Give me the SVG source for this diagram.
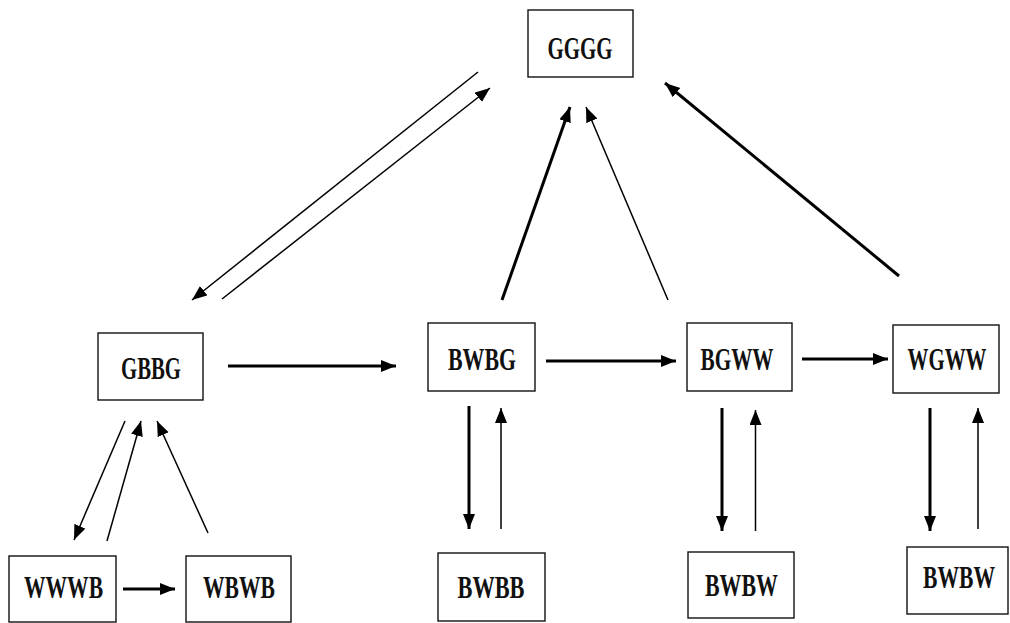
<svg xmlns="http://www.w3.org/2000/svg" width="1010" height="623" viewBox="0 0 1010 623">
<style>
.box{fill:#fff;stroke:#111;stroke-width:1.4}
.lbl{font-family:"Liberation Serif","Times New Roman",serif;font-weight:bold;font-size:20px;fill:#111;text-anchor:middle}
.thick{stroke:#000;stroke-width:3;fill:none;marker-end:url(#ah)}
.thin{stroke:#000;stroke-width:1.5;fill:none;marker-end:url(#ah)}
</style>
<defs>
<marker id="ah" markerUnits="userSpaceOnUse" markerWidth="16" markerHeight="13" refX="15" refY="6" orient="auto">
<path d="M0,0 L15,6 L0,12 z" fill="#000"/>
</marker>
</defs>
<rect width="1010" height="623" fill="#fff"/>
<g id="connectors">
<line class="thin" x1="478" y1="72" x2="192" y2="300"/>
<line class="thin" x1="222" y1="299" x2="490" y2="88"/>
<line class="thick" x1="502" y1="300" x2="570" y2="107"/>
<line class="thin" x1="668" y1="300" x2="586" y2="107"/>
<line class="thick" x1="899" y1="276" x2="665" y2="83"/>
<line class="thick" x1="228" y1="366" x2="396" y2="366"/>
<line class="thick" x1="546" y1="361" x2="676" y2="361"/>
<line class="thick" x1="802" y1="359" x2="888" y2="359"/>
<line class="thin" x1="125" y1="421" x2="74" y2="540"/>
<line class="thin" x1="107" y1="541" x2="141" y2="421"/>
<line class="thin" x1="208" y1="533" x2="157" y2="421"/>
<line class="thick" x1="123" y1="589" x2="175" y2="589"/>
<line class="thick" x1="469" y1="406" x2="469" y2="529"/>
<line class="thin" x1="501" y1="529" x2="501" y2="408"/>
<line class="thick" x1="722" y1="408" x2="722" y2="531"/>
<line class="thin" x1="755.5" y1="531" x2="755.5" y2="410"/>
<line class="thick" x1="930" y1="408" x2="930" y2="531"/>
<line class="thin" x1="978" y1="529" x2="978" y2="408"/>
</g>
<g id="GGGG">
<rect class="box" x="528" y="10" width="105" height="67"/>
<text class="lbl" transform="translate(580,59) scale(1,1.55)" textLength="65" lengthAdjust="spacingAndGlyphs">GGGG</text>
</g>
<g id="GBBG">
<rect class="box" x="98" y="333" width="105" height="67"/>
<text class="lbl" transform="translate(151,379) scale(1,1.55)" textLength="60" lengthAdjust="spacingAndGlyphs">GBBG</text>
</g>
<g id="BWBG">
<rect class="box" x="428" y="323" width="107" height="68"/>
<text class="lbl" transform="translate(482,370) scale(1,1.55)" textLength="68" lengthAdjust="spacingAndGlyphs">BWBG</text>
</g>
<g id="BGWW">
<rect class="box" x="687" y="323" width="105" height="68"/>
<text class="lbl" transform="translate(737,370) scale(1,1.55)" textLength="73" lengthAdjust="spacingAndGlyphs">BGWW</text>
</g>
<g id="WGWW">
<rect class="box" x="893" y="325" width="106" height="68"/>
<text class="lbl" transform="translate(947,370) scale(1,1.55)" textLength="79" lengthAdjust="spacingAndGlyphs">WGWW</text>
</g>
<g id="WWWB">
<rect class="box" x="9" y="556" width="107" height="66"/>
<text class="lbl" transform="translate(63.5,598) scale(1,1.55)" textLength="79" lengthAdjust="spacingAndGlyphs">WWWB</text>
</g>
<g id="WBWB">
<rect class="box" x="186" y="556" width="105" height="66"/>
<text class="lbl" transform="translate(239,598) scale(1,1.55)" textLength="72" lengthAdjust="spacingAndGlyphs">WBWB</text>
</g>
<g id="BWBB">
<rect class="box" x="438" y="553" width="107" height="68"/>
<text class="lbl" transform="translate(491,598) scale(1,1.55)" textLength="67" lengthAdjust="spacingAndGlyphs">BWBB</text>
</g>
<g id="BWBW1">
<rect class="box" x="688" y="552" width="106" height="66"/>
<text class="lbl" transform="translate(741.5,596) scale(1,1.55)" textLength="73" lengthAdjust="spacingAndGlyphs">BWBW</text>
</g>
<g id="BWBW2">
<rect class="box" x="907" y="547" width="101" height="67"/>
<text class="lbl" transform="translate(959,588) scale(1,1.55)" textLength="72" lengthAdjust="spacingAndGlyphs">BWBW</text>
</g>
</svg>
